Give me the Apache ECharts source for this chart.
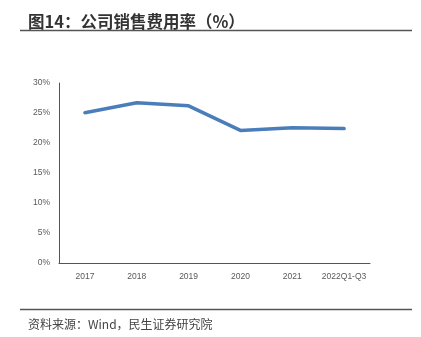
<!DOCTYPE html>
<html>
<head>
<meta charset="utf-8">
<script src="https://cdn.jsdelivr.net/npm/echarts@6/dist/echarts.min.js"></script>
<style>
html,body{margin:0;padding:0;background:#fff;}
#chart{width:421px;height:337px;}
</style>
</head>
<body>
<div id="chart"></div>
<script>
// 公司销售费用率（%）
const categories = ['2017', '2018', '2019', '2020', '2021', '2022Q1-Q3'];
const salesExpenseRate = [25.05, 26.7, 26.2, 22.1, 22.55, 22.4];
const yTicks = [0, 5, 10, 15, 20, 25, 30];

const chart = echarts.init(document.getElementById('chart'), null, { renderer: 'canvas' });
chart.setOption({
  backgroundColor: '#fff',
  animation: false,
  title: [
    {
      text: '图14：公司销售费用率（%）',
      left: 23, top: 8,
      textStyle: { fontFamily: 'Noto Sans CJK SC', fontSize: 16.5, fontWeight: 'bold', color: '#333' }
    },
    {
      text: '资料来源：Wind，民生证券研究院',
      left: 23, top: 313,
      textStyle: { fontFamily: 'Noto Sans CJK SC', fontSize: 12, fontWeight: 'normal', color: '#444' }
    }
  ],
  graphic: [
    { type: 'line', shape: { x1: 20, y1: 30.5, x2: 412, y2: 30.5 }, style: { stroke: '#555', lineWidth: 1.5 } },
    { type: 'line', shape: { x1: 20, y1: 309.5, x2: 412, y2: 309.5 }, style: { stroke: '#555', lineWidth: 1.5 } }
  ],
  grid: { left: 59, right: 51, top: 83, bottom: 74, containLabel: false },
  xAxis: {
    type: 'category',
    data: categories,
    boundaryGap: true,
    axisLine: { lineStyle: { color: '#555', width: 1 } },
    axisTick: { show: false },
    axisLabel: { interval: 0, color: '#595959', fontSize: 8.5, fontFamily: 'Liberation Sans', margin: 9 }
  },
  yAxis: {
    type: 'value',
    min: yTicks[0],
    max: yTicks[yTicks.length - 1],
    interval: 5,
    axisLine: { show: true, lineStyle: { color: '#555', width: 1 } },
    axisTick: { show: false },
    splitLine: { show: false },
    axisLabel: { color: '#595959', fontSize: 8.5, fontFamily: 'Liberation Sans', margin: 9, formatter: v => v + '%' }
  },
  series: [{
    type: 'line',
    data: salesExpenseRate,
    symbol: 'none',
    lineStyle: { color: '#4a7ebb', width: 3.5, cap: 'round', join: 'round' }
  }]
});
</script>
</body>
</html>
